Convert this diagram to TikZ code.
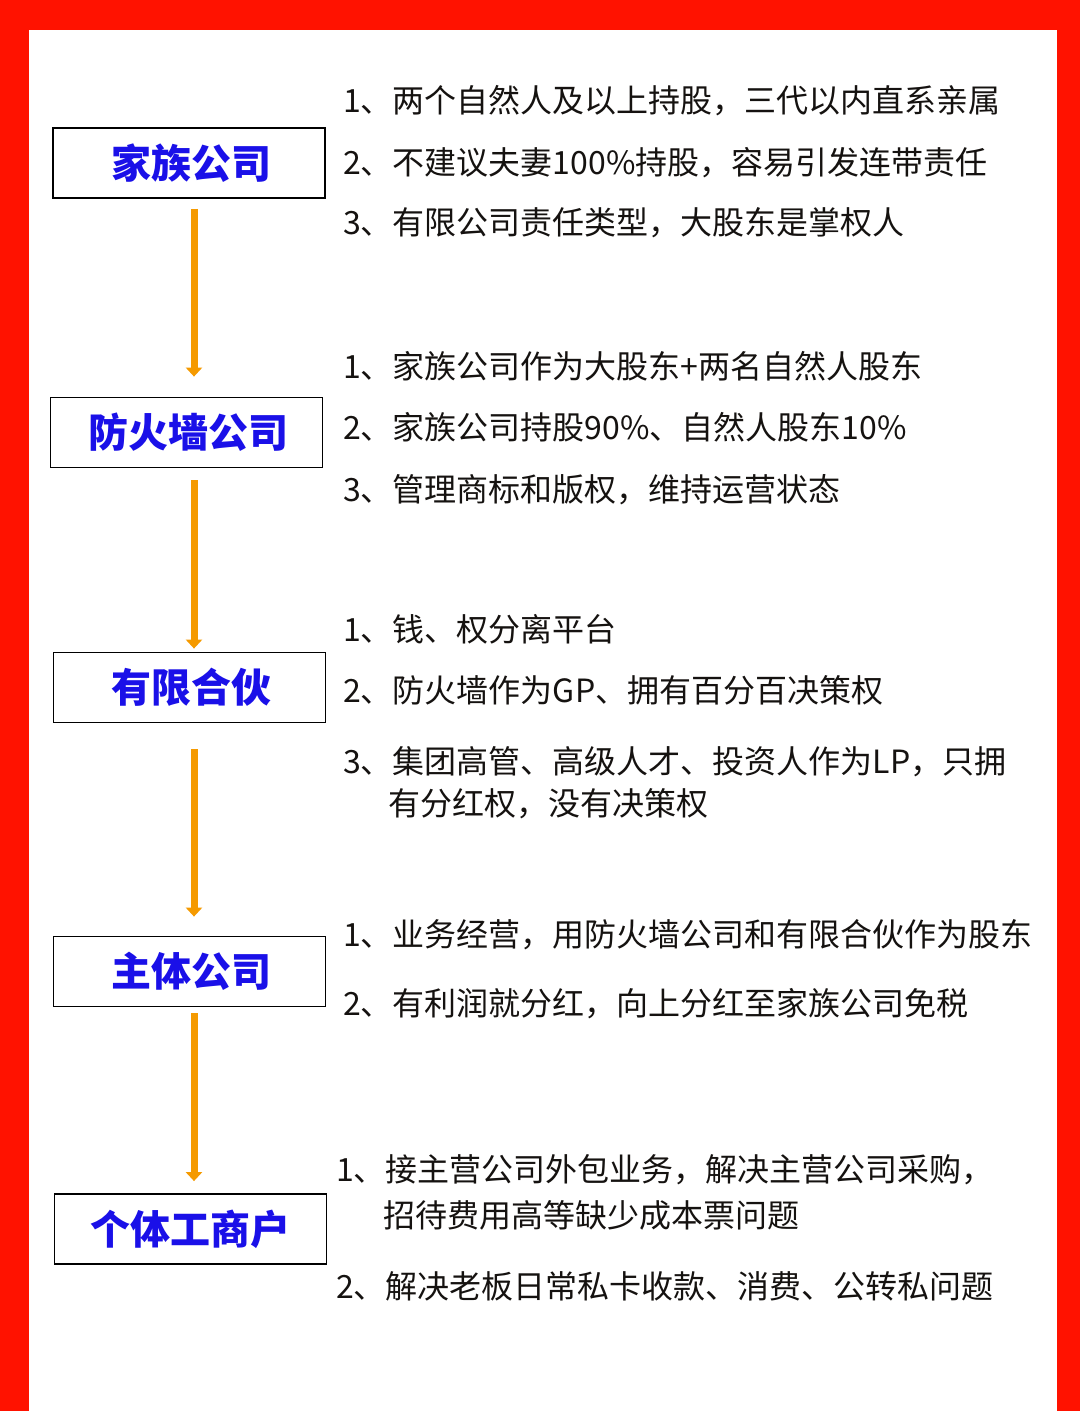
\documentclass[tikz,border=0pt]{standalone}
\usepackage{fontspec}
\setmainfont{Noto Sans CJK SC}
\usetikzlibrary{arrows.meta}
\definecolor{bordred}{HTML}{FF1200}
\definecolor{titleblue}{HTML}{1A10E8}
\definecolor{arrorange}{HTML}{F59A00}
\definecolor{bodytext}{HTML}{151210}
\begin{document}
\begin{tikzpicture}[x=1pt,y=-1pt,
  box/.style={draw=black,line width=1.8pt,fill=white,minimum width=272pt,minimum height=70pt,inner sep=0pt,font=\fontsize{40}{44}\selectfont\bfseries,text=titleblue},
  item/.style={anchor=west,inner sep=0pt,text height=28pt,text depth=4pt,font=\fontsize{32}{36}\selectfont,text=bodytext},
  arr/.style={draw=arrorange,line width=7pt,-{Triangle[width=16pt,length=9pt]}}]
\useasboundingbox (0,0) rectangle (1080,1411);
\fill[bordred] (0,0) rectangle (1080,1411);
\fill[white] (29,30) rectangle (1057,1411);

% boxes
\node[box] (b1) at (189,163) {\hspace{4pt}家族公司};
\node[box] (b2) at (186.5,432.5) {\hspace{4pt}防火墙公司};
\node[box] (b3) at (189.5,687.5) {\hspace{4pt}有限合伙};
\node[box] (b4) at (189.5,971.5) {\hspace{4pt}主体公司};
\node[box] (b5) at (190.5,1229) {个体工商户};

% arrows
\coordinate (ax) at (194,0);
\draw[arr,shorten <=10pt,shorten >=20pt] (b1.south -| ax) -- (b2.north -| ax);
\draw[arr,shorten <=12pt,shorten >=3pt] (b2.south -| ax) -- (b3.north -| ax);
\draw[arr,shorten <=26pt,shorten >=19pt] (b3.south -| ax) -- (b4.north -| ax);
\draw[arr,shorten <=6pt,shorten >=12pt] (b4.south -| ax) -- (b5.north -| ax);

% texts group 1
\node[item] (t11) at (343,100) {1、两个自然人及以上持股，三代以内直系亲属};
\node[item] (t12) at (343,162) {2、不建议夫妻100\%持股，容易引发连带责任};
\node[item] (t13) at (343,222) {3、有限公司责任类型，大股东是掌权人};
% group 2
\node[item] (t21) at (343,366) {1、家族公司作为大股东+两名自然人股东};
\node[item] (t22) at (343,427) {2、家族公司持股90\%、自然人股东10\%};
\node[item] (t23) at (343,489) {3、管理商标和版权，维持运营状态};
% group 3
\node[item] (t31) at (343,629) {1、钱、权分离平台};
\node[item] (t32) at (343,690) {2、防火墙作为GP、拥有百分百决策权};
\node[item] (t33) at (343,761) {3、集团高管、高级人才、投资人作为LP，只拥};
\node[item] (t34) at (388,803) {有分红权，没有决策权};
% group 4
\node[item] (t41) at (343,934) {1、业务经营，用防火墙公司和有限合伙作为股东};
\node[item] (t42) at (343,1003) {2、有利润就分红，向上分红至家族公司免税};
% group 5
\node[item] (t51) at (336,1169) {1、接主营公司外包业务，解决主营公司采购，};
\node[item] (t52) at (383,1215) {招待费用高等缺少成本票问题};
\node[item] (t53) at (336,1286) {2、解决老板日常私卡收款、消费、公转私问题};
\end{tikzpicture}
\end{document}
